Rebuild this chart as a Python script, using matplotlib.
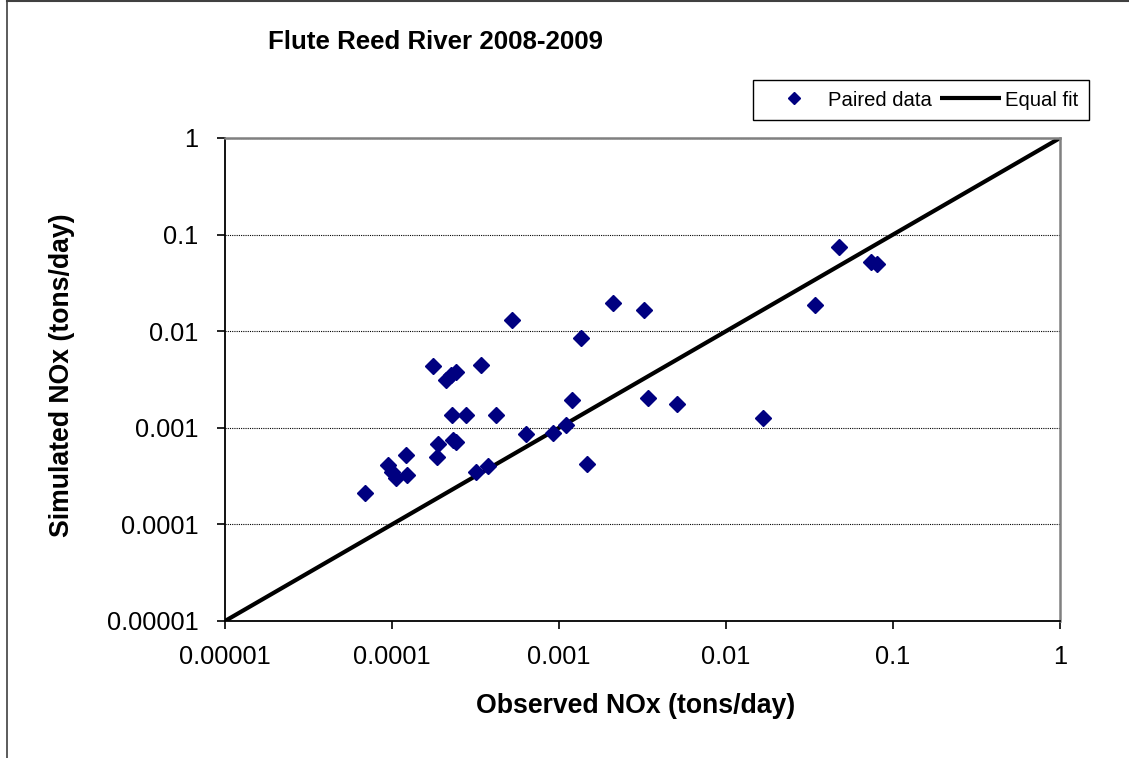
import numpy as np
import matplotlib
matplotlib.use('Agg')
import matplotlib.pyplot as plt
from matplotlib.lines import Line2D
from matplotlib.ticker import FixedLocator, FixedFormatter, NullLocator

plt.rcParams['font.family'] = ['Liberation Sans', 'DejaVu Sans']

# paired observed / simulated NOx, tons/day
observed = [6.9e-5, 9.5e-5, 1.0e-4, 1.06e-4, 1.23e-4, 1.21e-4, 1.86e-4, 1.88e-4,
            1.76e-4, 2.11e-4, 2.26e-4, 2.42e-4, 2.29e-4, 2.77e-4, 2.32e-4, 2.42e-4,
            3.41e-4, 4.2e-4, 3.18e-4, 3.76e-4, 5.23e-4, 6.35e-4, 9.2e-4, 1.10e-3,
            1.20e-3, 1.47e-3, 1.36e-3, 2.11e-3, 3.23e-3, 3.41e-3, 5.09e-3, 1.67e-2,
            3.41e-2, 4.75e-2, 7.38e-2, 8.02e-2]
simulated = [2.11e-4, 4.12e-4, 3.49e-4, 3.02e-4, 3.25e-4, 5.23e-4, 4.99e-4, 6.8e-4,
             4.36e-3, 3.13e-3, 3.52e-3, 3.78e-3, 1.36e-3, 1.36e-3, 7.48e-4, 7.13e-4,
             4.47e-3, 1.36e-3, 3.49e-4, 4.02e-4, 1.31e-2, 8.63e-4, 8.83e-4, 1.07e-3,
             1.94e-3, 4.22e-4, 8.5e-3, 1.96e-2, 1.66e-2, 2.03e-3, 1.76e-3, 1.26e-3,
             1.87e-2, 7.44e-2, 5.2e-2, 4.96e-2]

equal_fit = [1e-5, 1.0]
tick_vals = [1e-5, 1e-4, 1e-3, 1e-2, 1e-1, 1.0]
tick_labels = ['0.00001', '0.0001', '0.001', '0.01', '0.1', '1']

W, H = 1129, 758
fig = plt.figure(figsize=(W / 100, H / 100), dpi=100)
ax = fig.add_axes([225 / W, 1 - 621 / H, (1060 - 225) / W, (621 - 138) / H])

ax.plot(observed, simulated, linestyle='none', marker='D', markersize=8.3,
        color='#000080', markeredgecolor='#000080', label='Paired data', zorder=3)
ax.plot(equal_fit, equal_fit, color='black', linewidth=3.0, label='Equal fit',
        solid_capstyle='butt', zorder=2)

ax.set_xscale('log')
ax.set_yscale('log')
ax.set_xlim(1e-5, 1)
ax.set_ylim(1e-5, 1)
for axis in (ax.xaxis, ax.yaxis):
    axis.set_major_locator(FixedLocator(tick_vals))
    axis.set_major_formatter(FixedFormatter(tick_labels))
    axis.set_minor_locator(NullLocator())
ax.tick_params(axis='both', which='major', direction='out', length=6, width=1.2,
               labelsize=18.3, color='black')
ax.tick_params(axis='y', pad=13)
ax.tick_params(axis='x', pad=11)
ax.yaxis.grid(True, linestyle=(0, (1, 1)), color='black', linewidth=0.8)

for side in ('left', 'bottom'):
    ax.spines[side].set_color('black')
    ax.spines[side].set_linewidth(1.3)
for side in ('top', 'right'):
    ax.spines[side].set_color('#808080')
    ax.spines[side].set_linewidth(1.8)

fig.text(268 / W, 1 - 42 / H, 'Flute Reed River 2008-2009', fontsize=18.6,
         fontweight='bold', ha='left', va='center')
fig.text(636 / W, 1 - 706 / H, 'Observed NOx (tons/day)', fontsize=19.2,
         fontweight='bold', ha='center', va='center')
fig.text(62 / W, 1 - 375 / H, 'Simulated NOx (tons/day)', fontsize=19.2,
         fontweight='bold', ha='center', va='center', rotation=90)

leg = fig.legend(loc='center', bbox_to_anchor=(921 / W, 1 - 100 / H), ncol=2,
                 fontsize=14.6, frameon=True, fancybox=False, edgecolor='black',
                 framealpha=1, handlelength=3.0, handletextpad=0.2,
                 columnspacing=0.4, borderpad=0.5, markerscale=0.75)
leg.get_frame().set_linewidth(1.0)

# outer chart border (only left and top are visible)
fig.add_artist(Line2D([7 / W, 7 / W], [0, 1], color='#404040', linewidth=1.2))
fig.add_artist(Line2D([7 / W, 1], [1 - 1 / H, 1 - 1 / H], color='#404040', linewidth=1.5))

fig.savefig('out.png', dpi=100)
